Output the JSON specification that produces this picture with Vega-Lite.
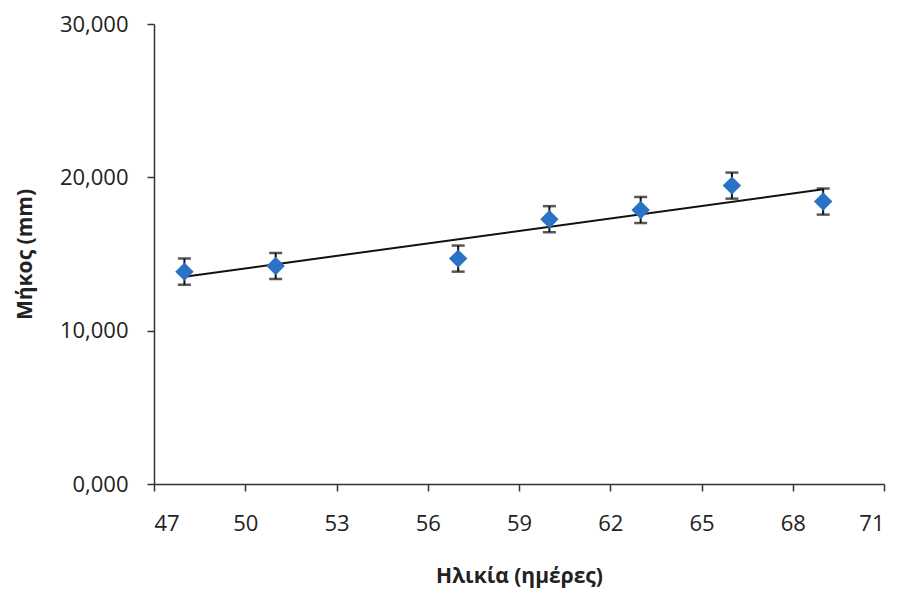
{
  "$schema": "https://vega.github.io/schema/vega-lite/v6.json",
  "width": 730,
  "height": 460,
  "autosize": {"type": "none"},
  "padding": {"left": 154, "top": 24, "right": 16, "bottom": 107},
  "background": "white",
  "config": {
    "view": {"stroke": null},
    "font": "Open Sans",
    "axis": {
      "grid": false,
      "domainColor": "#333333",
      "domainWidth": 1.5,
      "tickColor": "#333333",
      "tickWidth": 1.5,
      "tickSize": 7,
      "labelFont": "Open Sans",
      "labelFontSize": 22,
      "labelColor": "#222222",
      "titleFont": "Open Sans",
      "titleFontSize": 21,
      "titleFontWeight": "bold",
      "titleColor": "#222222"
    }
  },
  "datasets": {
    "pts": [
      {"age": 48, "len": 13.85, "lo": 13.0, "hi": 14.7},
      {"age": 51, "len": 14.22, "lo": 13.37, "hi": 15.07},
      {"age": 57, "len": 14.70, "lo": 13.85, "hi": 15.55},
      {"age": 60, "len": 17.27, "lo": 16.42, "hi": 18.12},
      {"age": 63, "len": 17.87, "lo": 17.02, "hi": 18.72},
      {"age": 66, "len": 19.46, "lo": 18.61, "hi": 20.31},
      {"age": 69, "len": 18.42, "lo": 17.57, "hi": 19.27}
    ],
    "trend": [
      {"age": 48, "len": 13.52},
      {"age": 69, "len": 19.22}
    ]
  },
  "layer": [
    {
      "data": {"name": "trend"},
      "mark": {"type": "line", "color": "#111111", "strokeWidth": 2},
      "encoding": {
        "x": {
          "field": "age", "type": "quantitative",
          "scale": {"domain": [47, 71], "nice": false, "zero": false},
          "axis": {
            "title": "Ηλικία (ημέρες)",
            "values": [47, 50, 53, 56, 59, 62, 65, 68, 71],
            "labelPadding": 22,
            "titlePadding": 31
          }
        },
        "y": {
          "field": "len", "type": "quantitative",
          "scale": {"domain": [0, 30], "nice": false},
          "axis": {
            "title": "Μήκος (mm)",
            "values": [0, 10, 20, 30],
            "labelExpr": "replace(format(datum.value, '.3f'), '.', ',')",
            "labelPadding": 19,
            "titlePadding": 24
          }
        }
      }
    },
    {
      "data": {"name": "pts"},
      "mark": {"type": "rule", "color": "#111111", "strokeWidth": 2},
      "encoding": {
        "x": {"field": "age", "type": "quantitative"},
        "y": {"field": "lo", "type": "quantitative"},
        "y2": {"field": "hi"}
      }
    },
    {
      "data": {"name": "pts"},
      "mark": {"type": "tick", "color": "#111111", "orient": "horizontal", "size": 13, "thickness": 2.5},
      "encoding": {
        "x": {"field": "age", "type": "quantitative"},
        "y": {"field": "lo", "type": "quantitative"}
      }
    },
    {
      "data": {"name": "pts"},
      "mark": {"type": "tick", "color": "#111111", "orient": "horizontal", "size": 13, "thickness": 2.5},
      "encoding": {
        "x": {"field": "age", "type": "quantitative"},
        "y": {"field": "hi", "type": "quantitative"}
      }
    },
    {
      "data": {"name": "pts"},
      "mark": {"type": "point", "shape": "diamond", "filled": true, "size": 340, "color": "#2A72C6", "opacity": 1},
      "encoding": {
        "x": {"field": "age", "type": "quantitative"},
        "y": {"field": "len", "type": "quantitative"}
      }
    }
  ]
}
